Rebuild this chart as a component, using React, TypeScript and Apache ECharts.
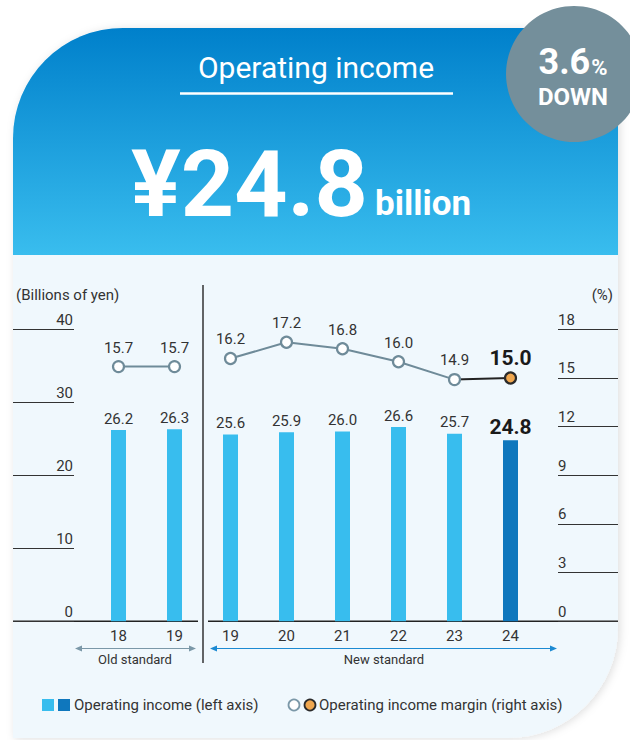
import React, { useEffect, useRef } from "react";
import * as echarts from "echarts";

const categories = ["18", "19", "19", "20", "21", "22", "23", "24"];
const operatingIncome = [26.2, 26.3, 25.6, 25.9, 26.0, 26.6, 25.7, 24.8];
const marginOld = [15.7, 15.7];
const marginNew = [16.2, 17.2, 16.8, 16.0, 14.9, 15.0];
const leftTicks = { min: 0, max: 40, interval: 10 };
const rightTicks = { min: 0, max: 18, interval: 3 };

const FONT = "Roboto, 'Noto Sans', sans-serif";
const TXT = "#333333";
const LIGHT = "#38bdee";
const DARK = "#0f77bd";
const GRAY = "#6f8b99";

const fmt1 = (p: any) => {
  const v = typeof p.value === "object" && p.value !== null ? p.value.value : p.value;
  return Number(v).toFixed(1);
};

export default function App() {
  const ref = useRef<HTMLDivElement>(null);
  useEffect(() => {
    if (!ref.current) return;
    const chart = echarts.init(ref.current, null, { renderer: "svg" });
    const n = categories.length;
    const oldCount = marginOld.length;
    const lastIdx = n - 1;

    const barData = operatingIncome.map((v, i) =>
      i === lastIdx
        ? {
            value: v,
            itemStyle: { color: DARK },
            label: { fontSize: 21, fontWeight: "bold", color: "#1a1a1a", distance: 3 },
          }
        : { value: v }
    );
    const oldLine = categories.map((_, i) => (i < oldCount ? marginOld[i] : "-"));
    const newLine = categories.map((_, i) =>
      i >= oldCount && i < lastIdx ? marginNew[i - oldCount] : "-"
    );
    const lastLine = categories.map((_, i) => {
      if (i === lastIdx - 1) return { value: marginNew[i - oldCount], symbol: "none", label: { show: false } };
      if (i === lastIdx) return { value: marginNew[i - oldCount] };
      return "-";
    });

    const lineCommon = {
      type: "line",
      yAxisIndex: 1,
      symbol: "circle",
      symbolSize: 11,
      showAllSymbol: true,
      connectNulls: false,
      lineStyle: { color: GRAY, width: 2 },
      itemStyle: { color: "#ffffff", borderColor: GRAY, borderWidth: 2.2 },
      label: { show: true, position: "top", distance: 5, fontSize: 15, color: TXT, fontFamily: FONT, formatter: fmt1 },
      z: 5,
    };

    const arrow = (x1: number, x2: number, y: number, color: string) => [
      { type: "line", shape: { x1: x1 + 3, y1: y, x2: x2 - 3, y2: y }, style: { stroke: color, lineWidth: 1.2 } },
      { type: "polygon", shape: { points: [[x1, y], [x1 + 7, y - 3], [x1 + 7, y + 3]] }, style: { fill: color } },
      { type: "polygon", shape: { points: [[x2, y], [x2 - 7, y - 3], [x2 - 7, y + 3]] }, style: { fill: color } },
    ];

    const graphics: any[] = [
      {
        type: "rect",
        z: -10,
        shape: { x: 13, y: 28, width: 605, height: 710, r: [110, 0, 110, 0] },
        style: { fill: "#f0f8fd", shadowBlur: 8, shadowColor: "rgba(0,0,0,0.13)", shadowOffsetX: 2, shadowOffsetY: 1 },
      },
      {
        type: "rect",
        z: -9,
        shape: { x: 13, y: 28, width: 605, height: 227, r: [110, 0, 0, 0] },
        style: {
          fill: new echarts.graphic.LinearGradient(0, 0, 0, 1, [
            { offset: 0, color: "#0080cb" },
            { offset: 1, color: "#39bdee" },
          ]),
        },
      },
      { type: "circle", z: -8, shape: { cx: 574, cy: 74, r: 68 }, style: { fill: "#748f9b" } },
      {
        type: "text",
        x: 316,
        y: 67,
        style: { text: "Operating income", fill: "#ffffff", fontSize: 30, fontFamily: FONT, align: "center", verticalAlign: "middle" },
      },
      { type: "line", shape: { x1: 180, y1: 93.5, x2: 453, y2: 93.5 }, style: { stroke: "#ffffff", lineWidth: 2.5 } },
      {
        type: "text",
        x: 131,
        y: 184,
        style: { text: "¥24.8", fill: "#ffffff", fontSize: 93, fontWeight: "bold", fontFamily: FONT, align: "left", verticalAlign: "middle" },
      },
      {
        type: "text",
        x: 375,
        y: 203,
        style: { text: "billion", fill: "#ffffff", fontSize: 35, fontWeight: "bold", fontFamily: FONT, align: "left", verticalAlign: "middle" },
      },
      {
        type: "text",
        x: 573,
        y: 62,
        style: {
          text: "{a|3.6}{b|%}",
          align: "center",
          verticalAlign: "middle",
          rich: {
            a: { fill: "#ffffff", fontSize: 36, fontWeight: "bold", fontFamily: FONT, verticalAlign: "bottom" },
            b: { fill: "#ffffff", fontSize: 22, fontWeight: "bold", fontFamily: FONT, verticalAlign: "bottom", padding: [0, 0, 2, 1] },
          },
        },
      },
      {
        type: "text",
        x: 573,
        y: 97,
        style: { text: "DOWN", fill: "#ffffff", fontSize: 24, fontWeight: "bold", fontFamily: FONT, align: "center", verticalAlign: "middle" },
      },
      {
        type: "text",
        x: 16,
        y: 295,
        style: { text: "(Billions of yen)", fill: TXT, fontSize: 15, fontFamily: FONT, align: "left", verticalAlign: "middle" },
      },
      {
        type: "text",
        x: 613,
        y: 295,
        style: { text: "(%)", fill: TXT, fontSize: 15, fontFamily: FONT, align: "right", verticalAlign: "middle" },
      },
      { type: "line", shape: { x1: 203, y1: 285, x2: 203, y2: 663 }, style: { stroke: "#333333", lineWidth: 1.5 } },
      { type: "line", shape: { x1: 13, y1: 621.3, x2: 198, y2: 621.3 }, style: { stroke: "#222222", lineWidth: 1.5 } },
      { type: "line", shape: { x1: 208, y1: 621.3, x2: 618, y2: 621.3 }, style: { stroke: "#222222", lineWidth: 1.5 } },
      ...arrow(75, 196, 648.5, "#7b98a8"),
      ...arrow(210, 557, 648.5, "#1c8ad2"),
      {
        type: "text",
        x: 135,
        y: 659,
        style: { text: "Old standard", fill: TXT, fontSize: 13, fontFamily: FONT, align: "center", verticalAlign: "middle" },
      },
      {
        type: "text",
        x: 384,
        y: 659,
        style: { text: "New standard", fill: TXT, fontSize: 13, fontFamily: FONT, align: "center", verticalAlign: "middle" },
      },
      { type: "rect", shape: { x: 42, y: 699, width: 12, height: 12 }, style: { fill: LIGHT } },
      { type: "rect", shape: { x: 58, y: 699, width: 12, height: 12 }, style: { fill: DARK } },
      {
        type: "text",
        x: 74,
        y: 705,
        style: { text: "Operating income (left axis)", fill: TXT, fontSize: 15, fontFamily: FONT, align: "left", verticalAlign: "middle" },
      },
      { type: "circle", shape: { cx: 294, cy: 705, r: 5.5 }, style: { fill: "#ffffff", stroke: "#7b98a8", lineWidth: 1.8 } },
      { type: "circle", shape: { cx: 310, cy: 705, r: 5.5 }, style: { fill: "#f0a74f", stroke: "#2a2a2a", lineWidth: 1.8 } },
      {
        type: "text",
        x: 319,
        y: 705,
        style: { text: "Operating income margin (right axis)", fill: TXT, fontSize: 15, fontFamily: FONT, align: "left", verticalAlign: "middle" },
      },
    ];

    chart.setOption({
      animation: false,
      textStyle: { fontFamily: FONT },
      grid: { left: 90.5, right: 91.5, top: 329.3, bottom: 118.7, containLabel: false },
      xAxis: {
        type: "category",
        data: categories,
        axisLine: { show: false },
        axisTick: { show: false },
        axisLabel: { color: TXT, fontSize: 15, margin: 7, fontFamily: FONT },
      },
      yAxis: [
        {
          type: "value",
          ...leftTicks,
          position: "left",
          offset: 16.5,
          axisLine: { show: false },
          axisTick: { show: true, length: 61, lineStyle: { color: "#333333", width: 1 } },
          splitLine: { show: false },
          axisLabel: { color: TXT, fontSize: 15, margin: 1, verticalAlign: "bottom", fontFamily: FONT, padding: [0, 0, 2, 0] },
        },
        {
          type: "value",
          ...rightTicks,
          position: "right",
          offset: 19.5,
          axisLine: { show: false },
          axisTick: { show: true, length: 60, lineStyle: { color: "#333333", width: 1 } },
          splitLine: { show: false },
          axisLabel: { color: TXT, fontSize: 15, margin: 0, align: "left", verticalAlign: "bottom", fontFamily: FONT, padding: [0, 0, 2, 0] },
        },
      ],
      series: [
        {
          type: "bar",
          data: barData,
          barWidth: 15,
          itemStyle: { color: LIGHT },
          label: { show: true, position: "top", distance: 4, fontSize: 15, color: TXT, fontFamily: FONT, formatter: fmt1 },
          z: 3,
        },
        { ...lineCommon, data: oldLine },
        { ...lineCommon, data: newLine, z: 6 },
        {
          ...lineCommon,
          data: lastLine,
          z: 4,
          lineStyle: { color: "#222222", width: 2 },
          itemStyle: { color: "#f0a74f", borderColor: "#2a2a2a", borderWidth: 2.2 },
          label: { show: true, position: "top", distance: 3, fontSize: 21, fontWeight: "bold", color: "#1a1a1a", fontFamily: FONT, formatter: fmt1 },
        },
      ],
      graphic: graphics,
    });
    return () => chart.dispose();
  }, []);
  return <div ref={ref} style={{ position: "absolute", left: 0, top: 0, width: 630, height: 740 }} />;
}
